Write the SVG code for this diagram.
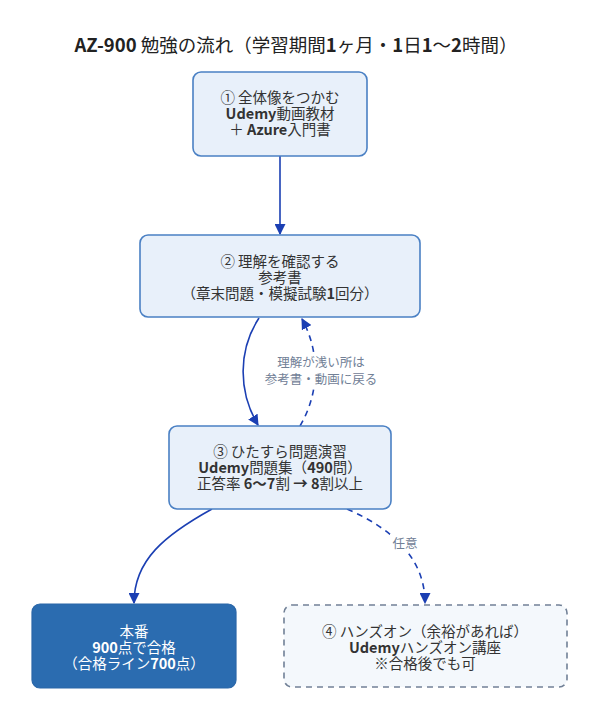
<svg xmlns="http://www.w3.org/2000/svg" width="601" height="720" viewBox="0 0 601 720">
<style>
text{font-family:"Noto Sans CJK JP","Noto Sans",sans-serif;}
.t{font-size:14.5px;fill:#333;text-anchor:middle;}
.w{font-size:14.5px;fill:#ffffff;text-anchor:middle;}
.b{font-weight:bold;}
.lbl{font-size:12.5px;fill:#718096;text-anchor:middle;}
.node{fill:#e8f0fa;stroke:#4a80c4;stroke-width:1.6;}
.edge{fill:none;stroke:#1b3fb3;stroke-width:1.6;}
.dash{stroke-dasharray:6,5;}
</style>
<defs>
<marker id="ah" viewBox="0 0 10 10" refX="9" refY="5" markerWidth="11" markerHeight="11" markerUnits="userSpaceOnUse" orient="auto">
<path d="M0,0 L10,5 L0,10 z" fill="#1b3fb3"/>
</marker>
</defs>
<rect width="601" height="720" fill="#ffffff"/>
<text x="296" y="52" style="font-size:18.5px;fill:#222;text-anchor:middle"><tspan class="b">AZ-900</tspan> 勉強の流れ（学習期間<tspan class="b">1</tspan>ヶ月・<tspan class="b">1</tspan>日<tspan class="b">1</tspan>～<tspan class="b">2</tspan>時間）</text>
<g id="connectors">
<path class="edge" d="M280,156 L280,234" marker-end="url(#ah)"/>
<path class="edge" d="M259,318 C238,350 238,392 258,425" marker-end="url(#ah)"/>
<path class="edge dash" d="M300,426 C320,392 320,352 302,319" marker-end="url(#ah)"/>
<path class="edge" d="M212,509 C165,535 134,560 134,603" marker-end="url(#ah)"/>
<path class="edge dash" d="M347,509 C395,530 425,560 425,603" marker-end="url(#ah)"/>
<rect x="262" y="352" width="118" height="36" fill="#ffffff"/>
<text class="lbl" x="321" y="367">理解が浅い所は</text>
<text class="lbl" x="321" y="384">参考書・動画に戻る</text>
<rect x="390" y="534" width="30" height="18" fill="#ffffff"/>
<text class="lbl" x="405" y="548">任意</text>
</g>
<g id="node1">
<rect class="node" x="193" y="72" width="174" height="84" rx="8"/>
<text class="t" x="280" y="103">① 全体像をつかむ</text>
<text class="t" x="280" y="119"><tspan class="b">Udemy</tspan>動画教材</text>
<text class="t" x="280" y="135">＋ <tspan class="b">Azure</tspan>入門書</text>
</g>
<g id="node2">
<rect class="node" x="140" y="235" width="280" height="82" rx="8"/>
<text class="t" x="280" y="267">② 理解を確認する</text>
<text class="t" x="280" y="283">参考書</text>
<text class="t" x="280" y="299">（章末問題・模擬試験<tspan class="b">1</tspan>回分）</text>
</g>
<g id="node3">
<rect class="node" x="169" y="426" width="222" height="83" rx="8"/>
<text class="t" x="280" y="457">③ ひたすら問題演習</text>
<text class="t" x="280" y="473"><tspan class="b">Udemy</tspan>問題集（<tspan class="b">490</tspan>問）</text>
<text class="t" x="280" y="489">正答率 <tspan class="b">6～7</tspan>割 <tspan class="b">→ 8</tspan>割以上</text>
</g>
<g id="exam">
<rect x="32" y="604" width="204" height="84" rx="8" fill="#2b6cb0" stroke="#2a66a8" stroke-width="1.2"/>
<text class="w" x="134" y="637">本番</text>
<text class="w" x="134" y="653"><tspan class="b">900</tspan>点で合格</text>
<text class="w" x="134" y="669">（合格ライン<tspan class="b">700</tspan>点）</text>
</g>
<g id="node4">
<rect x="284" y="605" width="283" height="82" rx="8" fill="#f4f8fc" stroke="#718096" stroke-width="1.6" stroke-dasharray="6,5"/>
<text class="t" x="425" y="637">④ ハンズオン（余裕があれば）</text>
<text class="t" x="425" y="653"><tspan class="b">Udemy</tspan>ハンズオン講座</text>
<text class="t" x="425" y="669">※合格後でも可</text>
</g>
</svg>
